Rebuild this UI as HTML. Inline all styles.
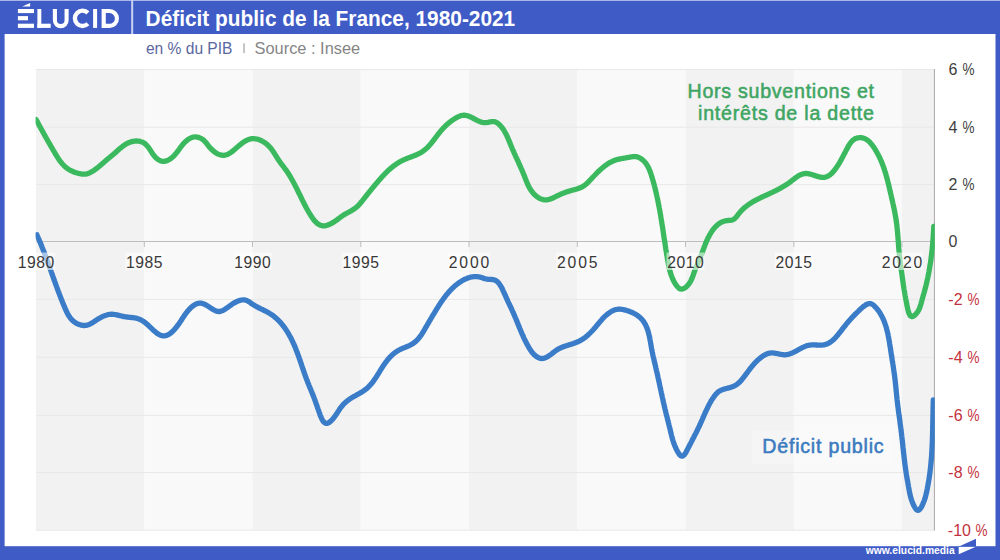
<!DOCTYPE html>
<html><head><meta charset="utf-8">
<style>
html,body{margin:0;padding:0;width:1000px;height:560px;overflow:hidden;background:#3e5bc6;}
svg{display:block;}
text{font-family:"Liberation Sans",sans-serif;}
</style></head>
<body>
<svg width="1000" height="560" viewBox="0 0 1000 560">
<rect x="0" y="0" width="1000" height="560" fill="#3e5bc6"/>
<rect x="0" y="0" width="1000" height="1" fill="#aab6ea"/>
<rect x="4.6" y="34" width="990.9" height="512.2" fill="#ffffff"/>
<!-- separator -->
<rect x="131.2" y="0" width="2" height="34" fill="#c9d1f3"/>
<!-- logo -->
<g fill="#ffffff">
<rect x="17.9" y="9" width="16.1" height="4.1"/>
<rect x="17.9" y="16.1" width="10.1" height="4.2"/>
<rect x="17.9" y="23.7" width="16.1" height="4.2"/>
<polygon points="22.2,6.6 30.1,3 30.1,6.6"/>
<rect x="37.4" y="9" width="3.9" height="18.9"/>
<rect x="37.4" y="23.7" width="13.3" height="4.2"/>
<rect x="93.1" y="9" width="4" height="18.9"/>
<path fill-rule="evenodd" d="M101.6,9 H109.6 A9.4,9.45 0 0 1 109.6,27.9 H101.6 Z M105.8,13.1 H109.6 A5.3,5.35 0 0 1 109.6,23.8 H105.8 Z"/>
</g>
<path d="M54.9,9 V20.3 A5.85,5.85 0 0 0 66.6,20.3 V9" fill="none" stroke="#fff" stroke-width="4.1"/>
<path d="M87.9,12.9 A7.65,7.65 0 1 0 87.9,23.8" fill="none" stroke="#fff" stroke-width="4.3"/>
<!-- title -->
<text x="145.6" y="26.1" font-size="21.2" font-weight="bold" fill="#ffffff" textLength="369.6" lengthAdjust="spacingAndGlyphs">Déficit public de la France, 1980-2021</text>
<text x="145.9" y="53.6" font-size="15.7" fill="#5b689f" textLength="86.6" lengthAdjust="spacingAndGlyphs">en % du PIB</text>
<rect x="243.3" y="43.3" width="1.5" height="9.8" fill="#b4b4b4"/>
<text x="254.6" y="53.6" font-size="15.7" fill="#858585" textLength="105.6" lengthAdjust="spacingAndGlyphs">Source : Insee</text>

<!-- chart bands -->
<g>
<rect x="36" y="69" width="108.3" height="461.5" fill="#f2f2f2"/>
<rect x="144.3" y="69" width="108.2" height="461.5" fill="#f9f9f9"/>
<rect x="252.5" y="69" width="108.3" height="461.5" fill="#f2f2f2"/>
<rect x="360.8" y="69" width="108.2" height="461.5" fill="#f9f9f9"/>
<rect x="469" y="69" width="108.3" height="461.5" fill="#f2f2f2"/>
<rect x="577.3" y="69" width="108.2" height="461.5" fill="#f9f9f9"/>
<rect x="685.5" y="69" width="108.3" height="461.5" fill="#f2f2f2"/>
<rect x="793.8" y="69" width="108.2" height="461.5" fill="#f9f9f9"/>
<rect x="902" y="69" width="32.5" height="461.5" fill="#f2f2f2"/>
</g>
<g stroke="#e8e8e8" stroke-width="1">
<line x1="36" y1="69.5" x2="934.5" y2="69.5"/>
<line x1="36" y1="127.2" x2="934.5" y2="127.2"/>
<line x1="36" y1="184.6" x2="934.5" y2="184.6"/>
<line x1="36" y1="299.4" x2="934.5" y2="299.4"/>
<line x1="36" y1="357.3" x2="934.5" y2="357.3"/>
<line x1="36" y1="415.4" x2="934.5" y2="415.4"/>
<line x1="36" y1="472.5" x2="934.5" y2="472.5"/>
<line x1="36" y1="530.2" x2="934.5" y2="530.2"/>
</g>
<line x1="934.4" y1="69" x2="934.4" y2="530.5" stroke="#a8a8a8" stroke-width="1"/>
<line x1="36" y1="241.5" x2="934.5" y2="241.5" stroke="#bdbdbd" stroke-width="1"/>
<g stroke="#bdbdbd" stroke-width="1">
<line x1="144.3" y1="241.5" x2="144.3" y2="247"/>
<line x1="252.5" y1="241.5" x2="252.5" y2="247"/>
<line x1="360.8" y1="241.5" x2="360.8" y2="247"/>
<line x1="469" y1="241.5" x2="469" y2="247"/>
<line x1="577.3" y1="241.5" x2="577.3" y2="247"/>
<line x1="685.5" y1="241.5" x2="685.5" y2="247"/>
<line x1="793.8" y1="241.5" x2="793.8" y2="247"/>
<line x1="902" y1="241.5" x2="902" y2="247"/>
</g>

<!-- curves -->
<clipPath id="pc"><rect x="35.6" y="60" width="899.2" height="480"/></clipPath>
<g clip-path="url(#pc)">
<path d="M36.0,119.4L36.3,120.0 36.7,120.6 37.0,121.3 37.3,121.9 37.7,122.5 38.0,123.1 38.4,123.7 38.7,124.4 39.0,125.0 39.4,125.6 39.7,126.2 40.0,126.8 40.4,127.4 40.7,128.0 41.0,128.7 41.4,129.3 41.7,129.9 42.1,130.5 42.4,131.1 42.7,131.7 43.1,132.3 43.4,132.9 43.7,133.5 44.1,134.1 44.4,134.8 44.8,135.4 45.1,136.0 45.4,136.6 45.8,137.2 46.1,137.8 46.5,138.4 46.8,139.0 47.2,139.6 47.5,140.2 47.8,140.8 48.2,141.4 48.5,142.0 48.9,142.6 49.2,143.2 49.6,143.8 49.9,144.4 50.3,145.1 50.6,145.7 51.0,146.3 51.3,146.9 51.7,147.5 52.0,148.1 52.4,148.7 52.7,149.3 53.1,149.9 53.4,150.5 53.8,151.1 54.2,151.7 54.5,152.3 54.9,152.9 55.3,153.6 55.6,154.2 56.0,154.8 56.3,155.4 56.7,156.0 57.1,156.6 57.5,157.2 57.9,157.8 58.2,158.4 58.6,159.0 59.0,159.6 59.4,160.1 59.8,160.7 60.2,161.3 60.7,161.8 61.1,162.4 61.5,162.9 62.0,163.5 62.4,164.0 62.9,164.5 63.4,165.0 63.8,165.5 64.3,166.0 64.8,166.5 65.3,166.9 65.9,167.4 66.4,167.8 66.9,168.2 67.5,168.6 68.1,169.0 68.7,169.4 69.3,169.8 69.9,170.1 70.5,170.4 71.1,170.7 71.8,171.1 72.4,171.3 73.1,171.6 73.7,171.9 74.4,172.1 75.1,172.4 75.7,172.6 76.4,172.8 77.1,173.0 77.8,173.2 78.5,173.4 79.2,173.5 79.9,173.7 80.6,173.8 81.3,174.0 81.9,174.1 82.6,174.1 83.3,174.2 84.0,174.2 84.7,174.2 85.4,174.2 86.0,174.0 86.7,173.9 87.4,173.7 88.0,173.5 88.7,173.3 89.3,173.0 89.9,172.7 90.6,172.4 91.2,172.0 91.8,171.7 92.4,171.3 93.0,171.0 93.6,170.6 94.2,170.2 94.8,169.8 95.3,169.4 95.9,169.0 96.5,168.5 97.0,168.1 97.6,167.7 98.2,167.2 98.7,166.8 99.3,166.3 99.8,165.9 100.3,165.4 100.9,165.0 101.4,164.5 101.9,164.0 102.5,163.6 103.0,163.1 103.5,162.7 104.0,162.2 104.6,161.7 105.1,161.3 105.6,160.8 106.1,160.3 106.7,159.9 107.2,159.4 107.7,159.0 108.3,158.5 108.8,158.1 109.3,157.7 109.9,157.2 110.4,156.8 110.9,156.3 111.5,155.9 112.0,155.5 112.5,155.0 113.1,154.6 113.6,154.1 114.1,153.7 114.6,153.2 115.2,152.8 115.7,152.3 116.2,151.8 116.8,151.4 117.3,150.9 117.8,150.4 118.4,149.9 118.9,149.5 119.4,149.0 120.0,148.5 120.5,148.1 121.0,147.6 121.6,147.2 122.2,146.7 122.7,146.3 123.3,145.9 123.9,145.5 124.4,145.1 125.0,144.7 125.6,144.3 126.2,143.9 126.8,143.6 127.4,143.3 128.1,143.0 128.7,142.7 129.4,142.4 130.0,142.2 130.7,141.9 131.4,141.7 132.1,141.6 132.8,141.4 133.5,141.3 134.2,141.2 134.9,141.1 135.6,141.0 136.3,141.0 137.0,141.0 137.7,141.1 138.4,141.1 139.1,141.2 139.8,141.3 140.4,141.5 141.1,141.7 141.7,141.9 142.3,142.1 142.9,142.4 143.5,142.7 144.1,143.1 144.6,143.4 145.2,143.9 145.7,144.3 146.2,144.8 146.6,145.3 147.1,145.8 147.6,146.3 148.0,146.9 148.4,147.4 148.9,148.0 149.3,148.6 149.7,149.2 150.1,149.8 150.5,150.5 150.9,151.1 151.3,151.7 151.7,152.3 152.1,152.9 152.5,153.6 153.0,154.2 153.4,154.8 153.8,155.4 154.3,155.9 154.8,156.5 155.2,157.0 155.7,157.6 156.2,158.1 156.8,158.5 157.3,159.0 157.9,159.4 158.5,159.8 159.0,160.1 159.7,160.4 160.3,160.7 160.9,160.9 161.5,161.1 162.2,161.3 162.8,161.3 163.5,161.4 164.2,161.3 164.8,161.2 165.5,161.1 166.2,160.9 166.9,160.7 167.5,160.4 168.2,160.1 168.8,159.8 169.5,159.4 170.1,159.0 170.7,158.6 171.3,158.1 171.8,157.7 172.4,157.2 172.9,156.8 173.4,156.3 173.9,155.8 174.4,155.3 174.9,154.7 175.4,154.2 175.8,153.7 176.3,153.1 176.7,152.6 177.1,152.0 177.5,151.5 178.0,150.9 178.4,150.3 178.8,149.8 179.2,149.2 179.6,148.6 180.0,148.1 180.4,147.5 180.9,146.9 181.3,146.4 181.7,145.8 182.2,145.3 182.6,144.7 183.1,144.2 183.5,143.7 184.0,143.1 184.5,142.6 185.0,142.1 185.5,141.6 186.0,141.2 186.5,140.7 187.1,140.3 187.6,139.8 188.2,139.4 188.8,139.0 189.4,138.7 190.1,138.3 190.7,138.0 191.3,137.7 192.0,137.5 192.7,137.3 193.4,137.1 194.1,137.0 194.8,136.9 195.5,136.9 196.2,137.0 196.9,137.1 197.6,137.2 198.3,137.4 199.0,137.6 199.7,137.8 200.3,138.1 201.0,138.4 201.6,138.8 202.2,139.1 202.8,139.5 203.3,139.9 203.8,140.4 204.3,140.8 204.8,141.3 205.2,141.8 205.7,142.3 206.1,142.9 206.5,143.4 207.0,143.9 207.4,144.5 207.8,145.0 208.2,145.6 208.7,146.1 209.1,146.7 209.6,147.3 210.1,147.8 210.6,148.4 211.1,148.9 211.6,149.4 212.2,149.9 212.7,150.4 213.3,150.9 213.9,151.4 214.5,151.9 215.1,152.3 215.7,152.7 216.3,153.1 217.0,153.5 217.6,153.8 218.2,154.1 218.9,154.4 219.5,154.6 220.2,154.8 220.8,155.0 221.5,155.2 222.1,155.2 222.7,155.3 223.4,155.3 224.0,155.3 224.6,155.2 225.2,155.1 225.8,155.0 226.5,154.8 227.1,154.6 227.7,154.3 228.3,154.0 228.8,153.7 229.4,153.4 230.0,153.0 230.6,152.6 231.2,152.2 231.8,151.8 232.3,151.4 232.9,150.9 233.5,150.5 234.1,150.0 234.6,149.5 235.2,149.0 235.8,148.5 236.3,148.0 236.9,147.5 237.5,147.0 238.0,146.5 238.6,146.0 239.2,145.5 239.8,145.1 240.3,144.6 240.9,144.1 241.5,143.7 242.0,143.2 242.6,142.8 243.2,142.4 243.8,142.0 244.4,141.6 245.0,141.2 245.6,140.9 246.2,140.6 246.8,140.3 247.4,140.0 248.0,139.7 248.6,139.5 249.2,139.3 249.9,139.1 250.5,138.9 251.1,138.8 251.8,138.7 252.4,138.7 253.1,138.6 253.8,138.6 254.4,138.7 255.1,138.8 255.8,138.9 256.5,139.0 257.1,139.1 257.8,139.3 258.5,139.5 259.2,139.8 259.8,140.0 260.5,140.3 261.2,140.6 261.8,140.9 262.5,141.3 263.1,141.6 263.7,142.0 264.4,142.4 265.0,142.8 265.6,143.2 266.2,143.7 266.7,144.1 267.3,144.6 267.8,145.1 268.3,145.6 268.8,146.1 269.3,146.6 269.8,147.1 270.3,147.7 270.7,148.2 271.2,148.7 271.6,149.3 272.0,149.8 272.4,150.4 272.8,151.0 273.2,151.6 273.6,152.1 274.0,152.7 274.3,153.3 274.7,153.9 275.1,154.5 275.5,155.1 275.8,155.7 276.2,156.3 276.5,156.9 276.9,157.5 277.3,158.0 277.7,158.6 278.0,159.2 278.4,159.8 278.8,160.4 279.2,160.9 279.6,161.5 280.0,162.1 280.4,162.6 280.8,163.2 281.2,163.8 281.7,164.3 282.1,164.9 282.5,165.4 282.9,166.0 283.4,166.5 283.8,167.1 284.2,167.6 284.6,168.2 285.0,168.8 285.5,169.3 285.9,169.9 286.3,170.5 286.7,171.0 287.1,171.6 287.5,172.2 287.9,172.8 288.2,173.4 288.6,174.0 289.0,174.5 289.4,175.1 289.7,175.7 290.1,176.3 290.5,177.0 290.8,177.6 291.2,178.2 291.5,178.8 291.9,179.4 292.2,180.0 292.6,180.6 292.9,181.2 293.2,181.9 293.6,182.5 293.9,183.1 294.2,183.7 294.6,184.4 294.9,185.0 295.2,185.6 295.5,186.2 295.9,186.9 296.2,187.5 296.5,188.1 296.8,188.8 297.1,189.4 297.4,190.0 297.7,190.6 298.0,191.3 298.3,191.9 298.6,192.5 298.9,193.2 299.3,193.8 299.6,194.4 299.9,195.0 300.2,195.7 300.5,196.3 300.8,196.9 301.1,197.5 301.4,198.1 301.7,198.8 302.0,199.4 302.3,200.0 302.6,200.6 302.9,201.2 303.2,201.8 303.5,202.4 303.8,203.0 304.1,203.7 304.4,204.3 304.7,204.9 305.1,205.5 305.4,206.1 305.7,206.7 306.0,207.3 306.4,207.9 306.7,208.5 307.1,209.2 307.4,209.8 307.8,210.4 308.1,211.0 308.5,211.6 308.8,212.2 309.2,212.9 309.6,213.5 310.0,214.1 310.4,214.8 310.7,215.4 311.1,216.0 311.6,216.6 312.0,217.3 312.4,217.9 312.8,218.5 313.3,219.1 313.7,219.7 314.2,220.2 314.6,220.8 315.1,221.3 315.6,221.9 316.1,222.4 316.6,222.8 317.1,223.3 317.6,223.7 318.2,224.1 318.7,224.4 319.3,224.7 319.9,225.0 320.4,225.3 321.0,225.5 321.7,225.6 322.3,225.8 322.9,225.8 323.6,225.9 324.2,225.8 324.9,225.8 325.6,225.7 326.3,225.5 327.0,225.3 327.7,225.1 328.4,224.8 329.1,224.5 329.8,224.2 330.5,223.9 331.1,223.5 331.8,223.2 332.4,222.8 333.1,222.5 333.7,222.1 334.3,221.7 334.9,221.3 335.5,220.9 336.1,220.5 336.6,220.1 337.2,219.7 337.8,219.3 338.3,218.8 338.9,218.4 339.4,218.0 340.0,217.6 340.5,217.2 341.1,216.8 341.6,216.4 342.2,216.0 342.8,215.6 343.3,215.2 343.9,214.9 344.5,214.5 345.1,214.2 345.7,213.8 346.3,213.5 346.9,213.1 347.5,212.8 348.1,212.5 348.8,212.1 349.4,211.8 350.0,211.5 350.6,211.1 351.2,210.8 351.8,210.4 352.4,210.1 353.0,209.7 353.6,209.3 354.2,208.9 354.8,208.5 355.3,208.1 355.8,207.7 356.4,207.2 356.9,206.8 357.4,206.3 357.9,205.8 358.4,205.3 358.9,204.8 359.4,204.3 359.8,203.8 360.3,203.3 360.7,202.7 361.2,202.2 361.6,201.6 362.1,201.1 362.5,200.5 363.0,200.0 363.4,199.4 363.8,198.9 364.3,198.3 364.7,197.8 365.1,197.2 365.6,196.6 366.0,196.1 366.5,195.5 366.9,195.0 367.3,194.4 367.8,193.9 368.2,193.3 368.6,192.8 369.1,192.2 369.5,191.7 370.0,191.1 370.4,190.6 370.8,190.1 371.3,189.5 371.7,189.0 372.2,188.4 372.6,187.9 373.1,187.3 373.5,186.8 374.0,186.3 374.4,185.7 374.9,185.2 375.3,184.7 375.8,184.1 376.2,183.6 376.7,183.0 377.1,182.5 377.6,182.0 378.0,181.4 378.5,180.9 379.0,180.4 379.4,179.8 379.9,179.3 380.3,178.8 380.8,178.3 381.3,177.7 381.7,177.2 382.2,176.7 382.7,176.2 383.2,175.7 383.7,175.2 384.1,174.7 384.6,174.1 385.1,173.6 385.6,173.1 386.1,172.7 386.6,172.2 387.1,171.7 387.6,171.2 388.1,170.7 388.6,170.2 389.1,169.8 389.6,169.3 390.1,168.8 390.7,168.4 391.2,167.9 391.7,167.5 392.3,167.1 392.8,166.6 393.3,166.2 393.9,165.8 394.4,165.4 395.0,165.0 395.6,164.6 396.1,164.2 396.7,163.8 397.3,163.4 397.9,163.0 398.4,162.7 399.0,162.3 399.6,161.9 400.2,161.6 400.8,161.3 401.4,160.9 402.1,160.6 402.7,160.3 403.3,160.0 404.0,159.7 404.6,159.5 405.2,159.2 405.9,158.9 406.5,158.6 407.2,158.4 407.9,158.1 408.5,157.9 409.2,157.6 409.8,157.4 410.5,157.1 411.2,156.9 411.8,156.6 412.5,156.4 413.2,156.1 413.8,155.8 414.5,155.6 415.1,155.3 415.8,155.1 416.4,154.8 417.1,154.5 417.7,154.2 418.3,153.9 418.9,153.6 419.6,153.3 420.2,153.0 420.8,152.6 421.4,152.3 421.9,151.9 422.5,151.5 423.1,151.1 423.6,150.7 424.2,150.3 424.7,149.9 425.3,149.5 425.8,149.0 426.3,148.5 426.8,148.1 427.3,147.6 427.8,147.1 428.3,146.6 428.8,146.1 429.2,145.6 429.7,145.0 430.2,144.5 430.6,144.0 431.1,143.4 431.6,142.9 432.0,142.3 432.4,141.7 432.9,141.2 433.3,140.6 433.8,140.0 434.2,139.5 434.6,138.9 435.1,138.3 435.5,137.7 435.9,137.2 436.4,136.6 436.8,136.0 437.3,135.4 437.7,134.9 438.1,134.3 438.6,133.7 439.0,133.2 439.5,132.6 439.9,132.1 440.3,131.5 440.8,131.0 441.3,130.4 441.7,129.9 442.2,129.4 442.7,128.9 443.1,128.4 443.6,127.8 444.1,127.3 444.6,126.8 445.1,126.3 445.6,125.9 446.1,125.4 446.6,124.9 447.1,124.4 447.6,124.0 448.1,123.5 448.6,123.1 449.2,122.6 449.7,122.2 450.2,121.8 450.8,121.4 451.4,120.9 451.9,120.5 452.5,120.1 453.1,119.7 453.6,119.4 454.2,119.0 454.8,118.6 455.4,118.3 456.1,117.9 456.7,117.6 457.3,117.2 457.9,116.9 458.6,116.6 459.2,116.3 459.9,116.1 460.5,115.8 461.2,115.6 461.9,115.5 462.5,115.3 463.2,115.3 463.9,115.2 464.5,115.2 465.2,115.3 465.9,115.4 466.6,115.5 467.3,115.7 467.9,115.9 468.6,116.1 469.3,116.4 470.0,116.7 470.6,117.0 471.3,117.3 471.9,117.6 472.6,118.0 473.3,118.3 473.9,118.7 474.6,119.0 475.2,119.4 475.8,119.7 476.5,120.0 477.1,120.4 477.8,120.7 478.4,121.0 479.0,121.3 479.7,121.5 480.3,121.8 481.0,122.0 481.6,122.2 482.3,122.4 483.0,122.5 483.6,122.6 484.3,122.7 485.0,122.7 485.7,122.7 486.4,122.6 487.1,122.5 487.8,122.4 488.5,122.2 489.2,122.1 489.9,122.0 490.6,121.8 491.3,121.7 492.0,121.6 492.7,121.6 493.4,121.6 494.1,121.6 494.7,121.7 495.3,121.9 495.9,122.2 496.5,122.4 497.1,122.8 497.7,123.2 498.2,123.6 498.7,124.1 499.3,124.5 499.8,125.0 500.2,125.5 500.7,126.1 501.2,126.6 501.6,127.1 502.0,127.7 502.5,128.2 502.9,128.8 503.3,129.4 503.7,130.0 504.0,130.5 504.4,131.1 504.7,131.7 505.1,132.4 505.4,133.0 505.8,133.6 506.1,134.2 506.4,134.8 506.7,135.5 507.0,136.1 507.3,136.8 507.6,137.4 507.9,138.1 508.2,138.7 508.4,139.4 508.7,140.0 509.0,140.7 509.3,141.3 509.5,142.0 509.8,142.7 510.1,143.3 510.3,144.0 510.6,144.6 510.9,145.3 511.1,146.0 511.4,146.6 511.7,147.3 512.0,147.9 512.2,148.6 512.5,149.2 512.8,149.9 513.1,150.5 513.4,151.1 513.6,151.8 513.9,152.4 514.2,153.1 514.5,153.7 514.8,154.3 515.1,155.0 515.4,155.6 515.6,156.2 515.9,156.9 516.2,157.5 516.5,158.1 516.8,158.8 517.1,159.4 517.4,160.0 517.7,160.6 518.0,161.3 518.3,161.9 518.5,162.5 518.8,163.2 519.1,163.8 519.4,164.4 519.7,165.1 520.0,165.7 520.3,166.3 520.5,167.0 520.8,167.6 521.1,168.2 521.4,168.9 521.7,169.5 521.9,170.2 522.2,170.8 522.5,171.4 522.8,172.1 523.0,172.7 523.3,173.4 523.6,174.0 523.8,174.7 524.1,175.3 524.4,176.0 524.6,176.6 524.9,177.3 525.1,178.0 525.4,178.6 525.6,179.3 525.9,179.9 526.2,180.6 526.4,181.2 526.7,181.9 527.0,182.5 527.2,183.2 527.5,183.8 527.8,184.5 528.1,185.1 528.4,185.7 528.7,186.4 529.1,187.0 529.4,187.6 529.7,188.2 530.1,188.8 530.4,189.4 530.8,190.0 531.2,190.6 531.6,191.1 532.0,191.7 532.5,192.2 532.9,192.8 533.4,193.3 533.8,193.8 534.3,194.4 534.8,194.9 535.4,195.3 535.9,195.8 536.5,196.3 537.0,196.7 537.6,197.1 538.2,197.5 538.9,197.9 539.5,198.3 540.1,198.6 540.8,198.9 541.4,199.1 542.1,199.3 542.8,199.5 543.4,199.7 544.1,199.8 544.8,199.9 545.5,199.9 546.1,199.9 546.8,199.8 547.5,199.8 548.2,199.6 548.8,199.5 549.5,199.3 550.2,199.1 550.8,198.8 551.5,198.6 552.2,198.3 552.8,198.0 553.5,197.7 554.1,197.4 554.8,197.1 555.4,196.7 556.1,196.4 556.7,196.1 557.3,195.8 558.0,195.5 558.6,195.2 559.3,194.9 559.9,194.6 560.5,194.3 561.2,194.0 561.8,193.8 562.4,193.5 563.1,193.2 563.7,193.0 564.4,192.7 565.0,192.5 565.7,192.2 566.3,192.0 567.0,191.8 567.6,191.6 568.3,191.4 569.0,191.2 569.6,191.0 570.3,190.8 571.0,190.6 571.7,190.4 572.3,190.2 573.0,190.0 573.7,189.8 574.4,189.7 575.1,189.5 575.8,189.3 576.5,189.1 577.1,188.9 577.8,188.6 578.5,188.4 579.2,188.2 579.8,187.9 580.5,187.7 581.1,187.4 581.7,187.1 582.3,186.8 582.9,186.4 583.5,186.1 584.1,185.7 584.6,185.3 585.2,184.9 585.7,184.5 586.2,184.0 586.7,183.6 587.2,183.1 587.7,182.6 588.2,182.1 588.7,181.6 589.2,181.1 589.6,180.6 590.1,180.1 590.6,179.6 591.1,179.1 591.6,178.6 592.0,178.1 592.5,177.6 593.0,177.0 593.5,176.5 594.0,176.0 594.5,175.5 595.0,175.0 595.5,174.5 596.0,173.9 596.5,173.4 597.0,172.9 597.5,172.4 598.0,171.9 598.6,171.4 599.1,170.9 599.6,170.4 600.1,169.9 600.6,169.5 601.2,169.0 601.7,168.5 602.2,168.0 602.8,167.6 603.3,167.1 603.9,166.7 604.4,166.3 605.0,165.8 605.6,165.4 606.1,165.0 606.7,164.6 607.3,164.2 607.8,163.8 608.4,163.4 609.0,163.1 609.6,162.7 610.2,162.4 610.8,162.1 611.4,161.8 612.0,161.5 612.7,161.2 613.3,160.9 613.9,160.6 614.6,160.4 615.2,160.2 615.8,159.9 616.5,159.7 617.2,159.5 617.8,159.4 618.5,159.2 619.2,159.1 619.9,158.9 620.5,158.8 621.2,158.7 621.9,158.5 622.6,158.4 623.3,158.3 624.0,158.2 624.7,158.1 625.4,158.0 626.1,157.8 626.8,157.7 627.5,157.6 628.2,157.5 628.9,157.3 629.7,157.2 630.4,157.0 631.1,156.9 631.8,156.8 632.5,156.7 633.2,156.6 633.8,156.6 634.5,156.5 635.2,156.6 635.9,156.6 636.6,156.7 637.2,156.9 637.9,157.1 638.6,157.4 639.2,157.7 639.8,158.0 640.4,158.3 641.0,158.7 641.6,159.1 642.2,159.6 642.7,160.0 643.3,160.5 643.8,161.0 644.2,161.4 644.7,162.0 645.2,162.5 645.6,163.0 646.0,163.6 646.4,164.1 646.8,164.7 647.1,165.3 647.5,165.8 647.8,166.4 648.2,167.1 648.5,167.7 648.8,168.3 649.1,168.9 649.3,169.6 649.6,170.2 649.9,170.9 650.1,171.5 650.4,172.2 650.6,172.9 650.8,173.5 651.1,174.2 651.3,174.9 651.5,175.6 651.7,176.2 651.9,176.9 652.1,177.6 652.3,178.3 652.5,179.0 652.7,179.6 652.9,180.3 653.1,181.0 653.3,181.7 653.5,182.4 653.7,183.0 653.9,183.7 654.1,184.4 654.2,185.1 654.4,185.8 654.6,186.5 654.8,187.1 654.9,187.8 655.1,188.5 655.3,189.2 655.5,189.9 655.6,190.6 655.8,191.2 655.9,191.9 656.1,192.6 656.3,193.3 656.4,194.0 656.6,194.7 656.7,195.3 656.9,196.0 657.0,196.7 657.2,197.4 657.3,198.1 657.5,198.8 657.6,199.4 657.8,200.1 657.9,200.8 658.0,201.5 658.2,202.2 658.3,202.9 658.4,203.6 658.6,204.2 658.7,204.9 658.8,205.6 659.0,206.3 659.1,207.0 659.2,207.7 659.4,208.4 659.5,209.0 659.6,209.7 659.7,210.4 659.9,211.1 660.0,211.8 660.1,212.5 660.2,213.2 660.3,213.9 660.5,214.5 660.6,215.2 660.7,215.9 660.8,216.6 660.9,217.3 661.0,218.0 661.1,218.7 661.3,219.4 661.4,220.0 661.5,220.7 661.6,221.4 661.7,222.1 661.8,222.8 661.9,223.5 662.0,224.2 662.1,224.9 662.2,225.6 662.4,226.2 662.5,226.9 662.6,227.6 662.7,228.3 662.8,229.0 662.9,229.7 663.0,230.4 663.1,231.1 663.2,231.8 663.3,232.5 663.4,233.1 663.5,233.8 663.6,234.5 663.7,235.2 663.8,235.9 663.9,236.6 664.0,237.3 664.1,238.0 664.2,238.7 664.3,239.4 664.5,240.0 664.6,240.7 664.7,241.4 664.8,242.1 664.9,242.8 665.0,243.5 665.1,244.2 665.2,244.9 665.3,245.6 665.4,246.3 665.5,247.0 665.6,247.7 665.7,248.4 665.8,249.0 665.9,249.7 666.1,250.4 666.2,251.1 666.3,251.8 666.4,252.5 666.5,253.2 666.6,253.9 666.7,254.6 666.9,255.3 667.0,256.0 667.1,256.7 667.2,257.4 667.3,258.1 667.4,258.7 667.6,259.4 667.7,260.1 667.8,260.8 667.9,261.5 668.1,262.2 668.2,262.9 668.3,263.6 668.4,264.3 668.6,265.0 668.7,265.7 668.9,266.4 669.0,267.1 669.2,267.8 669.3,268.4 669.5,269.1 669.6,269.8 669.8,270.5 670.0,271.2 670.2,271.8 670.4,272.5 670.6,273.2 670.8,273.9 671.0,274.5 671.2,275.2 671.5,275.9 671.7,276.5 672.0,277.2 672.2,277.8 672.5,278.5 672.8,279.1 673.1,279.8 673.4,280.4 673.7,281.0 674.0,281.7 674.4,282.3 674.8,282.9 675.1,283.5 675.5,284.1 675.9,284.7 676.3,285.3 676.8,285.9 677.2,286.5 677.7,287.0 678.2,287.5 678.7,288.0 679.2,288.4 679.7,288.7 680.3,288.9 680.9,289.1 681.5,289.1 682.1,289.1 682.7,289.0 683.3,288.7 683.9,288.4 684.6,288.1 685.2,287.7 685.8,287.2 686.4,286.7 687.0,286.1 687.5,285.6 688.0,285.0 688.5,284.4 689.0,283.8 689.4,283.2 689.8,282.6 690.2,282.0 690.6,281.3 690.9,280.7 691.2,280.1 691.5,279.4 691.8,278.8 692.1,278.1 692.3,277.5 692.6,276.8 692.8,276.2 693.1,275.5 693.3,274.8 693.5,274.2 693.7,273.5 694.0,272.9 694.2,272.2 694.4,271.6 694.7,270.9 694.9,270.3 695.2,269.6 695.4,269.0 695.7,268.3 696.0,267.7 696.2,267.1 696.5,266.4 696.8,265.8 697.0,265.1 697.3,264.5 697.6,263.9 697.9,263.2 698.1,262.6 698.4,261.9 698.7,261.3 699.0,260.7 699.2,260.0 699.5,259.4 699.8,258.7 700.0,258.1 700.3,257.4 700.6,256.8 700.8,256.1 701.1,255.5 701.3,254.8 701.6,254.2 701.8,253.5 702.1,252.8 702.3,252.2 702.6,251.5 702.8,250.9 703.0,250.2 703.3,249.5 703.5,248.9 703.8,248.2 704.0,247.6 704.3,246.9 704.5,246.2 704.8,245.6 705.0,244.9 705.3,244.3 705.6,243.6 705.8,243.0 706.1,242.3 706.4,241.7 706.7,241.0 706.9,240.4 707.2,239.7 707.5,239.1 707.8,238.4 708.1,237.8 708.4,237.2 708.8,236.6 709.1,235.9 709.4,235.3 709.8,234.7 710.1,234.1 710.5,233.5 710.8,232.9 711.2,232.3 711.6,231.7 712.0,231.1 712.4,230.5 712.8,230.0 713.2,229.4 713.6,228.9 714.1,228.3 714.5,227.8 715.0,227.3 715.5,226.7 716.0,226.3 716.5,225.8 717.0,225.3 717.5,224.9 718.0,224.4 718.6,224.0 719.1,223.6 719.7,223.2 720.3,222.9 720.9,222.5 721.5,222.2 722.1,221.9 722.7,221.7 723.4,221.4 724.0,221.2 724.7,221.0 725.4,220.9 726.1,220.7 726.8,220.6 727.5,220.5 728.3,220.5 729.0,220.4 729.8,220.4 730.5,220.3 731.2,220.2 731.9,220.1 732.5,219.9 733.2,219.6 733.7,219.3 734.3,218.9 734.8,218.5 735.3,218.0 735.8,217.5 736.2,217.0 736.7,216.5 737.1,215.9 737.6,215.3 738.0,214.7 738.4,214.2 738.9,213.6 739.3,213.0 739.8,212.5 740.3,211.9 740.7,211.4 741.2,210.9 741.7,210.4 742.2,209.9 742.7,209.4 743.2,208.9 743.7,208.4 744.3,207.9 744.8,207.5 745.3,207.0 745.9,206.6 746.4,206.2 747.0,205.7 747.5,205.3 748.1,204.9 748.7,204.5 749.3,204.1 749.8,203.7 750.4,203.4 751.0,203.0 751.6,202.6 752.2,202.2 752.8,201.9 753.4,201.5 754.0,201.2 754.6,200.8 755.3,200.5 755.9,200.2 756.5,199.8 757.1,199.5 757.7,199.2 758.4,198.9 759.0,198.6 759.6,198.2 760.3,197.9 760.9,197.6 761.5,197.3 762.2,197.0 762.8,196.7 763.4,196.4 764.1,196.1 764.7,195.8 765.3,195.5 766.0,195.3 766.6,195.0 767.3,194.7 767.9,194.4 768.5,194.1 769.2,193.8 769.8,193.5 770.4,193.2 771.0,192.9 771.7,192.6 772.3,192.3 772.9,192.0 773.5,191.7 774.2,191.4 774.8,191.1 775.4,190.8 776.0,190.5 776.6,190.2 777.3,189.9 777.9,189.6 778.5,189.2 779.1,188.9 779.7,188.6 780.3,188.3 780.9,187.9 781.5,187.6 782.1,187.2 782.7,186.9 783.3,186.5 783.9,186.2 784.5,185.8 785.1,185.4 785.7,185.1 786.3,184.7 786.9,184.3 787.5,183.9 788.1,183.5 788.7,183.1 789.2,182.7 789.8,182.2 790.4,181.8 791.0,181.4 791.5,180.9 792.1,180.5 792.7,180.0 793.3,179.6 793.8,179.1 794.4,178.7 795.0,178.3 795.6,177.8 796.1,177.4 796.7,177.0 797.3,176.6 797.9,176.2 798.5,175.9 799.1,175.5 799.7,175.2 800.3,174.9 800.9,174.6 801.5,174.4 802.1,174.2 802.7,174.0 803.4,173.8 804.0,173.7 804.7,173.6 805.3,173.5 806.0,173.5 806.7,173.5 807.3,173.6 808.0,173.7 808.7,173.8 809.4,173.9 810.1,174.1 810.9,174.3 811.6,174.5 812.3,174.7 813.0,174.9 813.7,175.2 814.5,175.4 815.2,175.7 815.9,175.9 816.6,176.1 817.3,176.4 818.1,176.6 818.8,176.8 819.5,176.9 820.2,177.1 820.9,177.2 821.6,177.3 822.2,177.4 822.9,177.4 823.6,177.4 824.2,177.3 824.9,177.2 825.5,177.1 826.1,176.9 826.7,176.7 827.3,176.4 827.9,176.1 828.5,175.8 829.1,175.5 829.6,175.1 830.2,174.7 830.7,174.2 831.2,173.8 831.7,173.3 832.2,172.8 832.7,172.3 833.2,171.7 833.7,171.2 834.2,170.6 834.6,170.0 835.1,169.4 835.5,168.8 836.0,168.2 836.4,167.6 836.8,167.0 837.2,166.4 837.6,165.8 838.0,165.2 838.4,164.6 838.7,164.0 839.1,163.4 839.5,162.8 839.8,162.2 840.2,161.6 840.5,161.0 840.8,160.4 841.2,159.8 841.5,159.2 841.8,158.6 842.1,158.0 842.5,157.4 842.8,156.8 843.1,156.2 843.4,155.6 843.7,155.0 844.0,154.4 844.3,153.8 844.7,153.2 845.0,152.6 845.3,152.0 845.6,151.4 845.9,150.7 846.3,150.1 846.6,149.5 846.9,148.9 847.3,148.2 847.6,147.6 848.0,146.9 848.3,146.3 848.7,145.7 849.1,145.0 849.5,144.4 849.9,143.8 850.3,143.2 850.7,142.6 851.2,142.0 851.7,141.5 852.2,140.9 852.7,140.4 853.2,140.0 853.8,139.6 854.4,139.2 855.0,138.8 855.7,138.5 856.4,138.3 857.1,138.1 857.8,137.9 858.5,137.8 859.2,137.7 859.8,137.6 860.5,137.6 861.2,137.7 861.9,137.8 862.5,137.9 863.1,138.0 863.7,138.2 864.3,138.4 864.9,138.7 865.5,139.0 866.1,139.3 866.6,139.6 867.2,140.0 867.7,140.4 868.2,140.8 868.8,141.3 869.3,141.7 869.7,142.2 870.2,142.7 870.7,143.3 871.2,143.8 871.6,144.4 872.1,144.9 872.5,145.5 872.9,146.1 873.4,146.7 873.8,147.3 874.2,147.9 874.6,148.5 875.0,149.1 875.4,149.7 875.7,150.4 876.1,151.0 876.5,151.6 876.8,152.2 877.2,152.9 877.5,153.5 877.9,154.1 878.2,154.8 878.5,155.4 878.8,156.0 879.2,156.7 879.5,157.3 879.8,157.9 880.1,158.6 880.4,159.2 880.7,159.9 880.9,160.5 881.2,161.2 881.5,161.8 881.8,162.5 882.0,163.1 882.3,163.8 882.5,164.4 882.8,165.1 883.0,165.7 883.3,166.4 883.5,167.0 883.7,167.7 884.0,168.3 884.2,169.0 884.4,169.7 884.6,170.3 884.8,171.0 885.0,171.7 885.3,172.3 885.5,173.0 885.7,173.7 885.9,174.3 886.1,175.0 886.2,175.7 886.4,176.3 886.6,177.0 886.8,177.7 887.0,178.4 887.2,179.0 887.4,179.7 887.5,180.4 887.7,181.1 887.9,181.7 888.0,182.4 888.2,183.1 888.4,183.8 888.5,184.4 888.7,185.1 888.9,185.8 889.0,186.5 889.2,187.2 889.4,187.8 889.5,188.5 889.7,189.2 889.8,189.9 890.0,190.6 890.2,191.2 890.3,191.9 890.5,192.6 890.6,193.3 890.8,194.0 891.0,194.6 891.1,195.3 891.3,196.0 891.4,196.7 891.6,197.4 891.7,198.1 891.9,198.7 892.0,199.4 892.2,200.1 892.4,200.8 892.5,201.5 892.7,202.2 892.8,202.8 893.0,203.5 893.1,204.2 893.3,204.9 893.4,205.6 893.5,206.3 893.7,207.0 893.8,207.6 894.0,208.3 894.1,209.0 894.3,209.7 894.4,210.4 894.5,211.1 894.7,211.8 894.8,212.5 894.9,213.2 895.1,213.8 895.2,214.5 895.3,215.2 895.4,215.9 895.5,216.6 895.7,217.3 895.8,218.0 895.9,218.7 896.0,219.4 896.1,220.1 896.2,220.8 896.3,221.4 896.4,222.1 896.5,222.8 896.6,223.5 896.7,224.2 896.8,224.9 896.9,225.6 896.9,226.3 897.0,227.0 897.1,227.7 897.2,228.4 897.2,229.1 897.3,229.8 897.4,230.5 897.4,231.2 897.5,231.9 897.6,232.6 897.6,233.3 897.7,234.0 897.7,234.7 897.8,235.4 897.9,236.1 897.9,236.8 898.0,237.5 898.0,238.2 898.1,238.9 898.1,239.6 898.2,240.3 898.2,241.0 898.3,241.7 898.3,242.4 898.4,243.1 898.4,243.8 898.5,244.5 898.5,245.1 898.6,245.8 898.6,246.5 898.7,247.2 898.7,247.9 898.8,248.6 898.9,249.3 898.9,250.0 899.0,250.7 899.1,251.4 899.1,252.1 899.2,252.8 899.3,253.5 899.3,254.2 899.4,254.9 899.5,255.5 899.5,256.2 899.6,256.9 899.7,257.6 899.8,258.3 899.9,259.0 899.9,259.7 900.0,260.4 900.1,261.1 900.2,261.8 900.3,262.5 900.4,263.2 900.5,263.9 900.5,264.6 900.6,265.3 900.7,265.9 900.8,266.6 900.9,267.3 901.0,268.0 901.1,268.7 901.2,269.5 901.3,270.2 901.4,270.9 901.5,271.6 901.6,272.3 901.7,273.0 901.8,273.7 901.9,274.4 902.0,275.1 902.1,275.8 902.2,276.5 902.3,277.2 902.4,278.0 902.5,278.7 902.6,279.4 902.7,280.1 902.8,280.8 902.9,281.5 903.0,282.2 903.1,282.9 903.2,283.6 903.3,284.3 903.4,285.0 903.5,285.7 903.6,286.3 903.7,287.0 903.8,287.7 903.9,288.4 904.0,289.0 904.1,289.7 904.2,290.3 904.4,291.0 904.5,291.6 904.6,292.3 904.7,292.9 904.8,293.5 904.9,294.2 905.0,294.8 905.1,295.4 905.2,296.1 905.3,296.7 905.5,297.3 905.6,298.0 905.7,298.7 905.8,299.3 906.0,300.0 906.1,300.7 906.2,301.4 906.4,302.2 906.5,302.9 906.7,303.7 906.8,304.5 907.0,305.3 907.1,306.1 907.3,306.9 907.5,307.8 907.7,308.7 907.9,309.6 908.1,310.4 908.3,311.3 908.6,312.1 908.8,312.9 909.1,313.6 909.4,314.3 909.7,314.9 910.1,315.4 910.4,315.9 910.8,316.2 911.2,316.4 911.7,316.6 912.2,316.6 912.7,316.4 913.3,316.2 913.8,315.9 914.4,315.4 915.0,315.0 915.5,314.4 916.1,313.8 916.6,313.2 917.1,312.5 917.6,311.9 918.0,311.2 918.4,310.6 918.7,309.9 919.1,309.3 919.4,308.6 919.6,308.0 919.9,307.3 920.1,306.7 920.3,306.0 920.5,305.4 920.7,304.7 920.9,304.1 921.1,303.4 921.3,302.7 921.4,302.1 921.6,301.4 921.8,300.8 922.0,300.1 922.2,299.4 922.4,298.8 922.5,298.1 922.7,297.4 922.9,296.8 923.1,296.1 923.3,295.4 923.5,294.7 923.7,294.1 923.9,293.4 924.1,292.7 924.3,292.0 924.5,291.3 924.6,290.7 924.8,290.0 925.0,289.3 925.2,288.6 925.4,287.9 925.5,287.3 925.7,286.6 925.9,285.9 926.1,285.2 926.2,284.5 926.4,283.9 926.5,283.2 926.7,282.5 926.9,281.8 927.0,281.1 927.2,280.4 927.3,279.8 927.5,279.1 927.6,278.4 927.8,277.7 927.9,277.0 928.1,276.3 928.2,275.6 928.3,275.0 928.5,274.3 928.6,273.6 928.7,272.9 928.9,272.2 929.0,271.5 929.1,270.8 929.2,270.1 929.4,269.4 929.5,268.8 929.6,268.1 929.7,267.4 929.8,266.7 929.9,266.0 930.0,265.3 930.2,264.6 930.3,263.9 930.4,263.2 930.5,262.5 930.6,261.8 930.7,261.1 930.8,260.5 930.9,259.8 931.0,259.1 931.1,258.4 931.1,257.7 931.2,257.0 931.3,256.3 931.4,255.6 931.5,254.9 931.6,254.2 931.7,253.5 931.7,252.8 931.8,252.1 931.9,251.4 932.0,250.7 932.1,250.0 932.1,249.3 932.2,248.6 932.3,248.0 932.3,247.3 932.4,246.6 932.5,245.9 932.5,245.2 932.6,244.5 932.7,243.8 932.7,243.1 932.8,242.4 932.8,241.7 932.9,241.0 932.9,240.3 933.0,239.6 933.1,238.9 933.1,238.2 933.2,237.5 933.2,236.8 933.3,236.1 933.3,235.4 933.3,234.7 933.4,234.0 933.4,233.3 933.5,232.6 933.5,231.9 933.6,231.2 933.6,230.5 933.6,229.8 933.7,229.1 933.7,228.4 933.7,227.7 933.8,227.0 933.8,226.3" fill="none" stroke="#3bb95e" stroke-width="5.3" stroke-linejoin="round" stroke-linecap="round"/>
<path d="M36.9,234.8L37.1,235.5 37.4,236.1 37.7,236.7 38.0,237.4 38.3,238.0 38.6,238.7 38.8,239.3 39.1,240.0 39.4,240.6 39.7,241.2 39.9,241.9 40.2,242.5 40.5,243.2 40.7,243.8 41.0,244.5 41.3,245.1 41.5,245.8 41.8,246.4 42.0,247.1 42.3,247.7 42.6,248.4 42.8,249.0 43.1,249.7 43.3,250.3 43.6,251.0 43.8,251.6 44.1,252.3 44.3,252.9 44.6,253.6 44.8,254.3 45.1,254.9 45.3,255.6 45.6,256.2 45.8,256.9 46.1,257.5 46.3,258.2 46.6,258.8 46.8,259.5 47.0,260.2 47.3,260.8 47.5,261.5 47.8,262.1 48.0,262.8 48.2,263.4 48.5,264.1 48.7,264.8 49.0,265.4 49.2,266.1 49.4,266.7 49.7,267.4 49.9,268.0 50.1,268.7 50.4,269.4 50.6,270.0 50.9,270.7 51.1,271.3 51.3,272.0 51.6,272.7 51.8,273.3 52.0,274.0 52.3,274.6 52.5,275.3 52.7,276.0 53.0,276.6 53.2,277.3 53.4,277.9 53.7,278.6 53.9,279.2 54.1,279.9 54.4,280.6 54.6,281.2 54.9,281.9 55.1,282.5 55.3,283.2 55.6,283.9 55.8,284.5 56.1,285.2 56.3,285.8 56.5,286.5 56.8,287.2 57.0,287.8 57.3,288.5 57.5,289.1 57.7,289.8 58.0,290.4 58.2,291.1 58.5,291.8 58.7,292.4 59.0,293.1 59.2,293.7 59.5,294.4 59.7,295.0 60.0,295.7 60.2,296.3 60.5,297.0 60.7,297.6 61.0,298.3 61.2,299.0 61.5,299.6 61.8,300.3 62.0,300.9 62.3,301.6 62.5,302.2 62.8,302.9 63.1,303.5 63.3,304.2 63.6,304.8 63.9,305.5 64.1,306.1 64.4,306.8 64.7,307.4 65.0,308.1 65.2,308.7 65.5,309.3 65.8,310.0 66.1,310.6 66.4,311.3 66.7,311.9 67.0,312.5 67.3,313.1 67.6,313.7 68.0,314.4 68.3,315.0 68.7,315.5 69.0,316.1 69.4,316.7 69.8,317.2 70.2,317.8 70.6,318.3 71.0,318.9 71.5,319.4 72.0,319.9 72.4,320.3 72.9,320.8 73.5,321.3 74.0,321.7 74.6,322.1 75.1,322.5 75.8,322.9 76.4,323.3 77.0,323.6 77.7,323.9 78.4,324.2 79.1,324.5 79.8,324.7 80.6,324.9 81.3,325.1 82.0,325.3 82.8,325.4 83.5,325.5 84.2,325.5 84.9,325.5 85.6,325.4 86.3,325.3 87.0,325.2 87.6,325.0 88.3,324.8 88.9,324.6 89.5,324.3 90.1,324.0 90.7,323.7 91.3,323.4 91.9,323.0 92.5,322.6 93.1,322.3 93.7,321.9 94.3,321.5 94.9,321.1 95.5,320.7 96.1,320.3 96.7,319.9 97.3,319.5 97.9,319.2 98.5,318.8 99.1,318.4 99.8,318.1 100.4,317.7 101.0,317.4 101.7,317.0 102.3,316.7 102.9,316.4 103.6,316.1 104.2,315.9 104.9,315.6 105.5,315.4 106.1,315.2 106.8,315.0 107.5,314.8 108.1,314.6 108.8,314.5 109.4,314.4 110.1,314.3 110.8,314.3 111.4,314.2 112.1,314.2 112.8,314.3 113.5,314.3 114.1,314.4 114.8,314.5 115.5,314.6 116.2,314.8 116.9,314.9 117.6,315.1 118.3,315.3 119.0,315.4 119.7,315.6 120.4,315.8 121.1,316.0 121.8,316.1 122.5,316.3 123.2,316.5 124.0,316.6 124.7,316.7 125.4,316.8 126.1,316.9 126.9,317.0 127.6,317.1 128.4,317.2 129.1,317.3 129.8,317.3 130.5,317.4 131.3,317.5 132.0,317.5 132.7,317.6 133.4,317.7 134.1,317.8 134.8,317.9 135.5,318.0 136.1,318.2 136.8,318.3 137.4,318.5 138.1,318.7 138.7,318.9 139.3,319.2 139.9,319.4 140.5,319.7 141.1,320.0 141.6,320.3 142.2,320.6 142.8,321.0 143.3,321.3 143.9,321.7 144.4,322.1 144.9,322.5 145.5,322.9 146.0,323.4 146.5,323.8 147.0,324.3 147.6,324.7 148.1,325.2 148.6,325.7 149.1,326.2 149.7,326.7 150.2,327.2 150.7,327.7 151.3,328.2 151.8,328.7 152.4,329.2 152.9,329.8 153.5,330.3 154.0,330.8 154.6,331.3 155.2,331.8 155.8,332.2 156.3,332.7 156.9,333.1 157.5,333.6 158.1,333.9 158.7,334.3 159.3,334.6 159.9,334.9 160.5,335.2 161.1,335.4 161.7,335.6 162.3,335.8 162.9,335.8 163.5,335.9 164.1,335.9 164.7,335.8 165.3,335.7 165.9,335.6 166.5,335.4 167.1,335.2 167.7,334.9 168.3,334.6 168.9,334.3 169.5,333.9 170.1,333.5 170.7,333.1 171.2,332.6 171.8,332.1 172.3,331.6 172.9,331.1 173.4,330.5 174.0,330.0 174.5,329.4 175.0,328.8 175.5,328.2 176.0,327.6 176.5,327.0 177.0,326.4 177.4,325.8 177.9,325.2 178.3,324.6 178.8,324.0 179.2,323.4 179.6,322.8 180.0,322.2 180.3,321.7 180.7,321.1 181.1,320.6 181.4,320.0 181.8,319.5 182.1,318.9 182.4,318.4 182.8,317.9 183.1,317.3 183.5,316.8 183.9,316.3 184.2,315.7 184.6,315.2 185.0,314.6 185.4,314.1 185.8,313.5 186.2,312.9 186.7,312.4 187.1,311.8 187.6,311.2 188.1,310.6 188.6,310.1 189.1,309.5 189.6,308.9 190.2,308.4 190.7,307.8 191.3,307.3 191.8,306.8 192.4,306.4 193.0,305.9 193.6,305.5 194.2,305.1 194.8,304.7 195.4,304.4 196.0,304.1 196.7,303.8 197.3,303.6 197.9,303.4 198.6,303.3 199.2,303.2 199.8,303.1 200.5,303.1 201.1,303.2 201.7,303.3 202.4,303.5 203.0,303.7 203.7,303.9 204.3,304.2 204.9,304.5 205.6,304.8 206.2,305.2 206.8,305.5 207.5,305.9 208.1,306.3 208.8,306.7 209.4,307.1 210.0,307.5 210.6,308.0 211.3,308.4 211.9,308.8 212.5,309.2 213.1,309.5 213.8,309.9 214.4,310.2 215.0,310.5 215.6,310.8 216.2,311.0 216.8,311.2 217.5,311.4 218.1,311.5 218.7,311.5 219.3,311.5 219.9,311.5 220.6,311.3 221.2,311.1 221.8,310.9 222.5,310.6 223.1,310.3 223.7,310.0 224.3,309.6 225.0,309.2 225.6,308.8 226.2,308.4 226.8,308.0 227.4,307.6 228.0,307.2 228.5,306.8 229.1,306.4 229.7,306.0 230.3,305.5 230.9,305.1 231.4,304.7 232.0,304.3 232.6,303.9 233.2,303.5 233.8,303.2 234.4,302.8 235.1,302.5 235.7,302.1 236.3,301.8 237.0,301.5 237.6,301.2 238.3,300.9 239.0,300.7 239.7,300.4 240.4,300.3 241.1,300.1 241.8,300.0 242.5,299.9 243.1,299.8 243.8,299.9 244.5,299.9 245.1,300.0 245.8,300.2 246.4,300.4 247.0,300.7 247.6,301.0 248.2,301.3 248.8,301.7 249.4,302.0 250.0,302.4 250.6,302.8 251.1,303.3 251.7,303.7 252.3,304.1 252.9,304.5 253.5,304.9 254.1,305.2 254.7,305.6 255.4,305.9 256.0,306.3 256.6,306.6 257.2,307.0 257.9,307.3 258.5,307.6 259.1,308.0 259.8,308.3 260.4,308.6 261.0,308.9 261.7,309.2 262.3,309.5 263.0,309.8 263.6,310.1 264.2,310.5 264.9,310.8 265.5,311.1 266.1,311.4 266.7,311.7 267.4,312.1 268.0,312.4 268.6,312.8 269.2,313.1 269.8,313.5 270.4,313.8 270.9,314.2 271.5,314.6 272.1,315.0 272.7,315.4 273.2,315.8 273.8,316.2 274.3,316.7 274.8,317.1 275.4,317.6 275.9,318.0 276.4,318.5 276.9,318.9 277.4,319.4 277.9,319.9 278.4,320.4 278.9,320.9 279.4,321.4 279.9,321.9 280.3,322.4 280.8,322.9 281.3,323.5 281.7,324.0 282.2,324.5 282.6,325.1 283.0,325.6 283.5,326.2 283.9,326.7 284.3,327.3 284.7,327.9 285.1,328.4 285.5,329.0 285.9,329.6 286.3,330.2 286.7,330.8 287.1,331.4 287.4,331.9 287.8,332.5 288.2,333.1 288.5,333.8 288.9,334.4 289.2,335.0 289.6,335.6 289.9,336.2 290.2,336.8 290.6,337.4 290.9,338.0 291.2,338.7 291.5,339.3 291.8,339.9 292.1,340.5 292.4,341.2 292.7,341.8 293.0,342.4 293.3,343.1 293.6,343.7 293.9,344.3 294.2,345.0 294.4,345.6 294.7,346.3 295.0,346.9 295.3,347.6 295.5,348.2 295.8,348.9 296.0,349.5 296.3,350.2 296.5,350.8 296.8,351.5 297.0,352.1 297.3,352.8 297.5,353.4 297.8,354.1 298.0,354.7 298.3,355.4 298.5,356.0 298.7,356.7 299.0,357.4 299.2,358.0 299.4,358.7 299.7,359.4 299.9,360.0 300.1,360.7 300.3,361.3 300.6,362.0 300.8,362.7 301.0,363.3 301.3,364.0 301.5,364.7 301.7,365.3 301.9,366.0 302.2,366.7 302.4,367.3 302.6,368.0 302.8,368.7 303.1,369.3 303.3,370.0 303.5,370.7 303.7,371.3 304.0,372.0 304.2,372.7 304.4,373.3 304.7,374.0 304.9,374.7 305.1,375.3 305.4,376.0 305.6,376.7 305.9,377.3 306.1,378.0 306.4,378.7 306.6,379.3 306.9,380.0 307.1,380.6 307.4,381.3 307.6,382.0 307.9,382.6 308.1,383.3 308.4,383.9 308.7,384.6 308.9,385.2 309.2,385.9 309.5,386.5 309.7,387.2 310.0,387.8 310.3,388.5 310.5,389.1 310.8,389.8 311.1,390.4 311.3,391.1 311.6,391.7 311.9,392.3 312.1,393.0 312.4,393.6 312.6,394.2 312.9,394.8 313.1,395.5 313.4,396.1 313.6,396.7 313.9,397.3 314.1,397.9 314.3,398.6 314.6,399.2 314.8,399.8 315.0,400.4 315.2,401.0 315.5,401.7 315.7,402.3 315.9,402.9 316.1,403.6 316.4,404.2 316.6,404.9 316.8,405.5 317.1,406.2 317.3,406.9 317.5,407.6 317.8,408.3 318.0,409.0 318.3,409.7 318.5,410.4 318.8,411.2 319.1,412.0 319.4,412.7 319.6,413.5 319.9,414.3 320.2,415.2 320.5,416.0 320.9,416.8 321.2,417.5 321.5,418.3 321.9,419.0 322.2,419.7 322.6,420.4 323.0,421.0 323.4,421.5 323.8,422.0 324.3,422.4 324.7,422.8 325.2,423.1 325.7,423.3 326.1,423.4 326.7,423.4 327.2,423.3 327.7,423.2 328.3,422.9 328.9,422.6 329.4,422.2 330.0,421.8 330.6,421.3 331.1,420.8 331.7,420.2 332.2,419.7 332.7,419.1 333.2,418.5 333.7,417.9 334.2,417.3 334.6,416.7 335.1,416.1 335.5,415.5 335.9,414.9 336.3,414.3 336.7,413.7 337.1,413.1 337.5,412.5 337.8,411.9 338.2,411.3 338.6,410.8 339.0,410.2 339.3,409.6 339.7,409.0 340.1,408.5 340.5,407.9 340.9,407.4 341.4,406.8 341.8,406.3 342.2,405.8 342.7,405.2 343.1,404.7 343.6,404.2 344.1,403.7 344.6,403.2 345.1,402.8 345.6,402.3 346.1,401.8 346.7,401.4 347.2,400.9 347.7,400.5 348.3,400.1 348.9,399.7 349.4,399.3 350.0,398.9 350.6,398.5 351.2,398.1 351.8,397.7 352.4,397.4 353.0,397.0 353.6,396.7 354.2,396.3 354.8,396.0 355.5,395.6 356.1,395.3 356.7,394.9 357.3,394.6 357.9,394.2 358.6,393.9 359.2,393.6 359.8,393.2 360.4,392.9 361.0,392.5 361.6,392.1 362.2,391.8 362.8,391.4 363.4,391.0 363.9,390.6 364.5,390.2 365.1,389.8 365.6,389.4 366.2,389.0 366.7,388.6 367.2,388.1 367.7,387.7 368.2,387.2 368.7,386.7 369.2,386.2 369.7,385.7 370.1,385.2 370.6,384.7 371.1,384.2 371.5,383.7 371.9,383.1 372.4,382.6 372.8,382.0 373.2,381.5 373.6,380.9 374.0,380.3 374.4,379.7 374.8,379.2 375.2,378.6 375.6,378.0 376.0,377.4 376.4,376.8 376.8,376.2 377.1,375.6 377.5,375.0 377.9,374.4 378.3,373.8 378.6,373.2 379.0,372.6 379.4,371.9 379.8,371.3 380.1,370.7 380.5,370.1 380.9,369.5 381.3,368.9 381.6,368.3 382.0,367.7 382.4,367.1 382.8,366.5 383.2,365.9 383.6,365.3 384.0,364.7 384.4,364.1 384.8,363.6 385.2,363.0 385.6,362.4 386.0,361.9 386.5,361.3 386.9,360.8 387.3,360.2 387.8,359.7 388.2,359.1 388.7,358.6 389.1,358.1 389.6,357.6 390.0,357.1 390.5,356.6 391.0,356.1 391.5,355.6 392.0,355.2 392.5,354.7 393.0,354.2 393.5,353.8 394.1,353.4 394.6,352.9 395.2,352.5 395.7,352.1 396.3,351.7 396.9,351.3 397.4,351.0 398.0,350.6 398.6,350.3 399.2,349.9 399.9,349.6 400.5,349.3 401.2,349.0 401.8,348.7 402.5,348.4 403.1,348.1 403.8,347.9 404.5,347.6 405.1,347.3 405.8,347.1 406.5,346.8 407.1,346.5 407.8,346.2 408.5,346.0 409.1,345.7 409.8,345.4 410.4,345.0 411.0,344.7 411.6,344.4 412.2,344.0 412.8,343.7 413.4,343.3 413.9,342.9 414.5,342.4 415.0,342.0 415.5,341.6 416.0,341.1 416.5,340.6 417.0,340.1 417.5,339.6 418.0,339.1 418.4,338.6 418.9,338.1 419.3,337.5 419.7,337.0 420.2,336.4 420.6,335.8 421.0,335.3 421.4,334.7 421.8,334.1 422.2,333.5 422.5,332.9 422.9,332.3 423.3,331.7 423.7,331.1 424.0,330.5 424.4,329.9 424.7,329.2 425.1,328.6 425.4,328.0 425.8,327.4 426.1,326.8 426.5,326.2 426.8,325.6 427.2,325.0 427.5,324.4 427.9,323.8 428.2,323.2 428.6,322.6 428.9,322.0 429.3,321.4 429.6,320.8 430.0,320.2 430.3,319.6 430.7,319.0 431.0,318.4 431.4,317.8 431.7,317.2 432.1,316.6 432.4,316.0 432.8,315.4 433.1,314.8 433.5,314.3 433.9,313.7 434.2,313.1 434.6,312.5 434.9,311.9 435.3,311.3 435.7,310.7 436.0,310.1 436.4,309.5 436.8,308.9 437.1,308.3 437.5,307.7 437.9,307.1 438.3,306.5 438.6,305.9 439.0,305.3 439.4,304.7 439.8,304.1 440.2,303.5 440.6,302.9 441.0,302.3 441.4,301.7 441.8,301.2 442.2,300.6 442.6,300.0 443.0,299.4 443.4,298.8 443.8,298.3 444.3,297.7 444.7,297.1 445.1,296.6 445.5,296.0 446.0,295.4 446.4,294.9 446.9,294.3 447.3,293.8 447.8,293.3 448.2,292.7 448.7,292.2 449.2,291.7 449.6,291.1 450.1,290.6 450.6,290.1 451.1,289.6 451.6,289.1 452.0,288.6 452.5,288.1 453.0,287.6 453.6,287.2 454.1,286.7 454.6,286.2 455.1,285.8 455.6,285.3 456.2,284.9 456.7,284.5 457.3,284.0 457.8,283.6 458.4,283.2 459.0,282.8 459.5,282.4 460.1,282.0 460.7,281.6 461.3,281.3 461.9,280.9 462.5,280.5 463.1,280.2 463.7,279.9 464.3,279.5 465.0,279.2 465.6,278.9 466.2,278.7 466.9,278.4 467.5,278.1 468.2,277.9 468.8,277.7 469.5,277.5 470.1,277.3 470.8,277.1 471.5,277.0 472.1,276.9 472.8,276.8 473.5,276.7 474.2,276.6 474.9,276.6 475.5,276.6 476.2,276.6 476.9,276.6 477.6,276.7 478.3,276.8 479.0,276.9 479.7,277.0 480.4,277.2 481.1,277.4 481.7,277.6 482.4,277.9 483.1,278.1 483.8,278.3 484.5,278.6 485.2,278.8 486.0,279.0 486.7,279.1 487.4,279.2 488.1,279.3 488.8,279.3 489.5,279.4 490.2,279.4 490.9,279.4 491.6,279.5 492.3,279.5 492.9,279.6 493.6,279.7 494.2,279.9 494.8,280.1 495.4,280.3 496.0,280.7 496.5,281.0 497.0,281.4 497.5,281.9 498.0,282.3 498.5,282.8 498.9,283.4 499.3,283.9 499.7,284.5 500.1,285.1 500.5,285.7 500.9,286.3 501.2,286.9 501.6,287.5 501.9,288.1 502.2,288.8 502.5,289.4 502.8,290.1 503.1,290.7 503.4,291.4 503.7,292.0 504.0,292.7 504.3,293.3 504.6,294.0 504.9,294.6 505.2,295.3 505.5,295.9 505.8,296.6 506.1,297.2 506.3,297.9 506.6,298.5 506.9,299.2 507.2,299.8 507.5,300.4 507.8,301.1 508.1,301.7 508.4,302.4 508.7,303.0 509.0,303.6 509.3,304.3 509.6,304.9 509.9,305.5 510.2,306.2 510.5,306.8 510.8,307.4 511.1,308.0 511.4,308.7 511.7,309.3 512.0,309.9 512.2,310.6 512.5,311.2 512.8,311.8 513.1,312.5 513.4,313.1 513.7,313.7 513.9,314.4 514.2,315.0 514.5,315.7 514.8,316.3 515.1,316.9 515.3,317.6 515.6,318.2 515.9,318.9 516.1,319.5 516.4,320.2 516.7,320.8 516.9,321.4 517.2,322.1 517.5,322.7 517.7,323.4 518.0,324.0 518.2,324.7 518.5,325.3 518.8,326.0 519.0,326.6 519.3,327.3 519.6,327.9 519.8,328.6 520.1,329.2 520.4,329.9 520.6,330.5 520.9,331.2 521.2,331.8 521.5,332.5 521.7,333.1 522.0,333.7 522.3,334.4 522.6,335.0 522.9,335.7 523.2,336.3 523.4,336.9 523.7,337.6 524.0,338.2 524.3,338.9 524.6,339.5 524.9,340.1 525.3,340.7 525.6,341.4 525.9,342.0 526.2,342.6 526.5,343.3 526.9,343.9 527.2,344.5 527.5,345.1 527.9,345.7 528.2,346.3 528.6,347.0 528.9,347.6 529.3,348.2 529.7,348.8 530.0,349.4 530.4,350.0 530.8,350.6 531.2,351.1 531.6,351.7 532.1,352.3 532.5,352.8 533.0,353.3 533.4,353.9 533.9,354.4 534.4,354.9 535.0,355.4 535.5,355.8 536.1,356.3 536.7,356.7 537.3,357.1 537.9,357.4 538.5,357.7 539.1,358.0 539.8,358.2 540.4,358.4 541.1,358.5 541.7,358.5 542.4,358.5 543.1,358.4 543.7,358.3 544.4,358.1 545.0,357.9 545.7,357.6 546.4,357.3 547.0,357.0 547.6,356.6 548.3,356.2 548.9,355.8 549.5,355.4 550.1,355.0 550.7,354.6 551.2,354.2 551.8,353.7 552.4,353.3 552.9,352.8 553.5,352.4 554.1,352.0 554.6,351.5 555.2,351.1 555.8,350.7 556.3,350.3 556.9,349.9 557.5,349.6 558.1,349.2 558.7,348.9 559.3,348.5 560.0,348.2 560.6,347.9 561.2,347.6 561.9,347.4 562.5,347.1 563.2,346.8 563.8,346.6 564.5,346.4 565.2,346.1 565.8,345.9 566.5,345.7 567.2,345.5 567.9,345.2 568.5,345.0 569.2,344.8 569.9,344.6 570.6,344.4 571.2,344.2 571.9,344.0 572.6,343.7 573.3,343.5 573.9,343.3 574.6,343.1 575.3,342.8 575.9,342.6 576.6,342.3 577.2,342.1 577.8,341.8 578.5,341.5 579.1,341.2 579.7,340.9 580.3,340.6 580.9,340.2 581.5,339.9 582.1,339.5 582.7,339.2 583.2,338.8 583.8,338.4 584.4,338.0 584.9,337.6 585.5,337.2 586.0,336.7 586.5,336.3 587.1,335.9 587.6,335.4 588.1,334.9 588.6,334.5 589.1,334.0 589.6,333.5 590.1,333.0 590.6,332.5 591.1,332.0 591.6,331.5 592.1,331.0 592.5,330.5 593.0,330.0 593.5,329.5 593.9,328.9 594.4,328.4 594.9,327.9 595.3,327.3 595.8,326.8 596.2,326.2 596.7,325.7 597.1,325.1 597.6,324.6 598.0,324.1 598.5,323.5 598.9,323.0 599.4,322.4 599.9,321.9 600.3,321.4 600.8,320.8 601.2,320.3 601.7,319.8 602.2,319.2 602.7,318.7 603.1,318.2 603.6,317.7 604.1,317.2 604.6,316.7 605.1,316.2 605.6,315.8 606.2,315.3 606.7,314.8 607.2,314.4 607.8,313.9 608.3,313.5 608.9,313.1 609.5,312.7 610.1,312.3 610.7,311.9 611.3,311.5 611.9,311.2 612.5,310.9 613.1,310.6 613.8,310.3 614.4,310.0 615.0,309.8 615.7,309.6 616.4,309.5 617.0,309.4 617.7,309.3 618.4,309.2 619.1,309.2 619.8,309.2 620.4,309.2 621.1,309.3 621.8,309.4 622.5,309.5 623.2,309.6 623.9,309.8 624.6,309.9 625.3,310.1 626.0,310.3 626.7,310.5 627.4,310.7 628.1,310.9 628.8,311.2 629.5,311.4 630.2,311.7 630.8,311.9 631.5,312.2 632.2,312.5 632.8,312.8 633.5,313.1 634.1,313.5 634.7,313.8 635.4,314.2 636.0,314.5 636.6,314.9 637.2,315.3 637.7,315.7 638.3,316.1 638.9,316.6 639.4,317.0 639.9,317.5 640.4,317.9 640.9,318.4 641.4,318.9 641.9,319.4 642.3,319.9 642.7,320.4 643.1,320.9 643.5,321.5 643.9,322.0 644.3,322.6 644.6,323.2 645.0,323.8 645.3,324.3 645.6,324.9 645.9,325.6 646.2,326.2 646.4,326.8 646.7,327.4 647.0,328.1 647.2,328.7 647.4,329.4 647.7,330.0 647.9,330.7 648.1,331.3 648.3,332.0 648.5,332.7 648.6,333.4 648.8,334.1 649.0,334.8 649.2,335.4 649.3,336.1 649.5,336.8 649.6,337.6 649.8,338.3 649.9,339.0 650.0,339.7 650.2,340.4 650.3,341.1 650.4,341.8 650.5,342.5 650.7,343.2 650.8,344.0 650.9,344.7 651.0,345.4 651.2,346.1 651.3,346.8 651.4,347.5 651.5,348.2 651.7,348.9 651.8,349.6 651.9,350.3 652.1,351.0 652.2,351.7 652.4,352.4 652.5,353.1 652.6,353.8 652.8,354.5 652.9,355.2 653.1,355.9 653.2,356.5 653.4,357.2 653.6,357.9 653.7,358.6 653.9,359.3 654.0,359.9 654.2,360.6 654.3,361.3 654.5,362.0 654.6,362.6 654.8,363.3 655.0,364.0 655.1,364.7 655.3,365.3 655.4,366.0 655.6,366.7 655.8,367.4 655.9,368.0 656.1,368.7 656.2,369.4 656.4,370.1 656.5,370.7 656.7,371.4 656.9,372.1 657.0,372.8 657.2,373.4 657.3,374.1 657.5,374.8 657.6,375.5 657.8,376.2 657.9,376.8 658.1,377.5 658.2,378.2 658.4,378.9 658.5,379.6 658.7,380.2 658.8,380.9 659.0,381.6 659.1,382.3 659.3,383.0 659.4,383.6 659.5,384.3 659.7,385.0 659.8,385.7 660.0,386.4 660.1,387.1 660.3,387.7 660.4,388.4 660.6,389.1 660.7,389.8 660.9,390.5 661.0,391.2 661.2,391.9 661.3,392.5 661.5,393.2 661.6,393.9 661.8,394.6 661.9,395.3 662.1,396.0 662.2,396.7 662.4,397.4 662.5,398.0 662.7,398.7 662.8,399.4 663.0,400.1 663.1,400.8 663.3,401.5 663.4,402.2 663.6,402.9 663.8,403.5 663.9,404.2 664.1,404.9 664.2,405.6 664.4,406.3 664.5,407.0 664.7,407.7 664.9,408.4 665.0,409.0 665.2,409.7 665.4,410.4 665.5,411.1 665.7,411.8 665.9,412.5 666.0,413.2 666.2,413.9 666.4,414.5 666.5,415.2 666.7,415.9 666.9,416.6 667.1,417.3 667.2,418.0 667.4,418.6 667.6,419.3 667.7,420.0 667.9,420.7 668.1,421.4 668.3,422.0 668.4,422.7 668.6,423.4 668.8,424.0 668.9,424.7 669.1,425.4 669.3,426.1 669.4,426.7 669.6,427.4 669.8,428.0 669.9,428.7 670.1,429.3 670.2,430.0 670.4,430.6 670.5,431.3 670.7,431.9 670.8,432.6 671.0,433.2 671.2,433.9 671.3,434.5 671.5,435.2 671.6,435.8 671.8,436.5 672.0,437.1 672.2,437.8 672.3,438.4 672.5,439.1 672.7,439.8 672.9,440.4 673.1,441.1 673.4,441.8 673.6,442.5 673.8,443.2 674.1,443.9 674.4,444.6 674.6,445.3 674.9,446.0 675.2,446.7 675.6,447.5 675.9,448.2 676.2,449.0 676.6,449.7 677.0,450.5 677.4,451.3 677.8,452.0 678.2,452.7 678.6,453.3 679.0,453.9 679.5,454.5 679.9,455.0 680.3,455.4 680.8,455.7 681.2,456.0 681.6,456.1 682.1,456.2 682.5,456.1 682.9,455.9 683.3,455.6 683.7,455.3 684.2,454.9 684.6,454.4 685.0,453.8 685.4,453.2 685.8,452.6 686.2,451.9 686.5,451.2 686.9,450.4 687.3,449.7 687.7,449.0 688.1,448.2 688.4,447.5 688.8,446.8 689.2,446.1 689.5,445.4 689.9,444.7 690.2,444.0 690.6,443.4 690.9,442.7 691.3,442.0 691.6,441.4 691.9,440.7 692.3,440.1 692.6,439.5 692.9,438.8 693.2,438.2 693.6,437.6 693.9,436.9 694.2,436.3 694.5,435.7 694.8,435.1 695.1,434.5 695.4,433.9 695.8,433.3 696.1,432.7 696.4,432.1 696.7,431.5 697.0,430.9 697.3,430.3 697.5,429.7 697.8,429.1 698.1,428.5 698.4,427.9 698.7,427.3 699.0,426.7 699.3,426.1 699.6,425.5 699.8,424.9 700.1,424.3 700.4,423.6 700.7,423.0 701.0,422.4 701.3,421.8 701.5,421.1 701.8,420.5 702.1,419.9 702.4,419.2 702.6,418.6 702.9,418.0 703.2,417.3 703.5,416.7 703.8,416.0 704.0,415.4 704.3,414.7 704.6,414.1 704.9,413.4 705.2,412.8 705.5,412.1 705.8,411.5 706.1,410.8 706.4,410.2 706.7,409.5 707.0,408.9 707.3,408.2 707.6,407.6 707.9,406.9 708.3,406.3 708.6,405.6 708.9,405.0 709.2,404.4 709.6,403.7 709.9,403.1 710.3,402.5 710.6,401.9 711.0,401.3 711.4,400.6 711.7,400.0 712.1,399.4 712.5,398.8 712.9,398.3 713.3,397.7 713.7,397.1 714.1,396.5 714.5,396.0 714.9,395.4 715.4,394.9 715.8,394.3 716.3,393.8 716.7,393.3 717.2,392.8 717.7,392.4 718.3,391.9 718.8,391.5 719.3,391.1 719.9,390.8 720.5,390.5 721.1,390.2 721.8,389.9 722.4,389.7 723.1,389.4 723.8,389.2 724.4,389.0 725.1,388.8 725.8,388.7 726.5,388.5 727.2,388.3 727.9,388.1 728.6,387.9 729.3,387.8 730.0,387.6 730.7,387.3 731.4,387.1 732.0,386.9 732.7,386.6 733.3,386.4 733.9,386.1 734.6,385.8 735.2,385.5 735.8,385.1 736.3,384.8 736.9,384.4 737.5,384.0 738.0,383.5 738.5,383.1 739.0,382.6 739.5,382.1 740.0,381.7 740.5,381.1 741.0,380.6 741.4,380.1 741.9,379.6 742.3,379.0 742.8,378.4 743.2,377.9 743.7,377.3 744.1,376.8 744.5,376.2 744.9,375.6 745.4,375.0 745.8,374.5 746.2,373.9 746.6,373.3 747.1,372.8 747.5,372.2 747.9,371.6 748.3,371.0 748.8,370.5 749.2,369.9 749.6,369.4 750.0,368.8 750.5,368.2 750.9,367.7 751.4,367.1 751.8,366.6 752.2,366.1 752.7,365.5 753.1,365.0 753.6,364.5 754.1,363.9 754.5,363.4 755.0,362.9 755.5,362.4 756.0,361.9 756.5,361.4 757.0,360.9 757.5,360.4 758.0,360.0 758.5,359.5 759.0,359.0 759.6,358.6 760.1,358.1 760.6,357.7 761.2,357.3 761.8,356.9 762.4,356.4 763.0,356.0 763.6,355.7 764.2,355.3 764.8,354.9 765.4,354.6 766.0,354.3 766.7,354.0 767.3,353.8 768.0,353.5 768.6,353.3 769.3,353.2 770.0,353.1 770.7,353.0 771.3,352.9 772.0,352.9 772.7,352.9 773.4,353.0 774.1,353.1 774.8,353.2 775.5,353.3 776.2,353.4 776.9,353.5 777.6,353.7 778.3,353.8 779.0,354.0 779.7,354.2 780.4,354.3 781.1,354.4 781.8,354.5 782.5,354.6 783.2,354.7 783.9,354.8 784.6,354.8 785.3,354.8 786.0,354.7 786.7,354.6 787.4,354.5 788.0,354.4 788.7,354.2 789.4,354.0 790.1,353.8 790.7,353.6 791.4,353.3 792.0,353.0 792.7,352.8 793.3,352.4 794.0,352.1 794.6,351.8 795.3,351.5 795.9,351.1 796.5,350.8 797.2,350.4 797.8,350.1 798.4,349.7 799.1,349.4 799.7,349.0 800.3,348.7 800.9,348.4 801.6,348.0 802.2,347.7 802.8,347.4 803.5,347.1 804.1,346.8 804.7,346.5 805.4,346.3 806.0,346.1 806.7,345.8 807.3,345.6 808.0,345.5 808.7,345.3 809.3,345.2 810.0,345.1 810.7,345.0 811.4,344.9 812.1,344.9 812.8,344.9 813.5,344.9 814.2,344.9 815.0,344.9 815.7,345.0 816.4,345.0 817.1,345.0 817.8,345.1 818.6,345.1 819.3,345.1 820.0,345.1 820.7,345.1 821.4,345.1 822.1,345.1 822.8,345.0 823.4,344.9 824.1,344.8 824.8,344.7 825.4,344.5 826.0,344.3 826.7,344.1 827.3,343.8 827.9,343.6 828.5,343.3 829.1,342.9 829.7,342.6 830.3,342.2 830.8,341.8 831.4,341.4 831.9,341.0 832.5,340.5 833.0,340.0 833.5,339.6 834.1,339.1 834.6,338.5 835.1,338.0 835.6,337.5 836.1,336.9 836.6,336.4 837.0,335.8 837.5,335.3 838.0,334.7 838.5,334.1 838.9,333.6 839.4,333.0 839.8,332.4 840.3,331.8 840.7,331.3 841.2,330.7 841.6,330.1 842.1,329.5 842.5,329.0 842.9,328.4 843.3,327.9 843.8,327.3 844.2,326.8 844.6,326.3 845.0,325.8 845.5,325.2 845.9,324.7 846.3,324.2 846.7,323.7 847.1,323.2 847.6,322.7 848.0,322.2 848.4,321.7 848.9,321.2 849.3,320.7 849.7,320.2 850.2,319.7 850.6,319.2 851.1,318.7 851.5,318.2 852.0,317.7 852.4,317.2 852.9,316.7 853.4,316.2 853.9,315.7 854.4,315.1 854.8,314.6 855.4,314.1 855.9,313.6 856.4,313.1 856.9,312.6 857.5,312.0 858.0,311.5 858.6,311.0 859.1,310.4 859.7,309.9 860.3,309.3 860.9,308.8 861.5,308.2 862.1,307.7 862.8,307.1 863.4,306.6 864.0,306.1 864.7,305.7 865.3,305.2 865.9,304.8 866.6,304.5 867.2,304.2 867.8,303.9 868.5,303.8 869.1,303.6 869.7,303.6 870.3,303.6 870.9,303.7 871.5,303.9 872.0,304.2 872.6,304.5 873.1,304.9 873.7,305.3 874.2,305.8 874.7,306.3 875.2,306.8 875.7,307.3 876.2,307.9 876.6,308.4 877.1,309.0 877.5,309.5 878.0,310.1 878.4,310.7 878.8,311.2 879.2,311.8 879.6,312.4 880.0,313.0 880.3,313.6 880.7,314.2 881.0,314.8 881.4,315.4 881.7,316.0 882.0,316.6 882.3,317.2 882.6,317.8 882.9,318.5 883.2,319.1 883.5,319.7 883.8,320.4 884.0,321.0 884.3,321.6 884.5,322.3 884.8,322.9 885.0,323.6 885.2,324.2 885.5,324.9 885.7,325.6 885.9,326.2 886.1,326.9 886.3,327.6 886.5,328.2 886.6,328.9 886.8,329.6 887.0,330.2 887.2,330.9 887.3,331.6 887.5,332.3 887.7,333.0 887.8,333.7 888.0,334.3 888.1,335.0 888.2,335.7 888.4,336.4 888.5,337.1 888.6,337.8 888.8,338.5 888.9,339.2 889.0,339.9 889.1,340.6 889.3,341.3 889.4,342.0 889.5,342.7 889.6,343.4 889.7,344.0 889.8,344.7 889.9,345.4 890.0,346.1 890.2,346.8 890.3,347.5 890.4,348.2 890.5,348.9 890.6,349.6 890.7,350.3 890.8,351.0 890.9,351.7 891.0,352.4 891.1,353.1 891.2,353.8 891.3,354.5 891.5,355.2 891.6,355.9 891.7,356.6 891.8,357.3 891.9,357.9 892.0,358.6 892.1,359.3 892.2,360.0 892.3,360.7 892.4,361.4 892.6,362.1 892.7,362.8 892.8,363.5 892.9,364.2 893.0,364.8 893.1,365.5 893.2,366.2 893.3,366.9 893.4,367.6 893.5,368.3 893.6,369.0 893.7,369.7 893.8,370.4 893.9,371.0 894.0,371.7 894.1,372.4 894.2,373.1 894.3,373.8 894.4,374.5 894.5,375.2 894.6,375.9 894.7,376.6 894.7,377.3 894.8,377.9 894.9,378.6 895.0,379.3 895.1,380.0 895.2,380.7 895.2,381.4 895.3,382.1 895.4,382.8 895.5,383.5 895.5,384.2 895.6,384.9 895.7,385.6 895.8,386.3 895.8,387.0 895.9,387.7 896.0,388.4 896.0,389.1 896.1,389.8 896.2,390.5 896.2,391.2 896.3,391.9 896.4,392.6 896.4,393.3 896.5,394.0 896.6,394.7 896.6,395.4 896.7,396.1 896.8,396.8 896.9,397.5 896.9,398.2 897.0,398.9 897.1,399.6 897.2,400.2 897.2,400.9 897.3,401.6 897.4,402.3 897.5,403.0 897.6,403.7 897.6,404.4 897.7,405.1 897.8,405.8 897.9,406.5 898.0,407.2 898.1,407.9 898.2,408.6 898.3,409.3 898.3,410.0 898.4,410.7 898.5,411.4 898.6,412.1 898.7,412.8 898.8,413.5 898.9,414.2 899.0,414.9 899.1,415.6 899.2,416.3 899.3,416.9 899.4,417.6 899.5,418.3 899.6,419.0 899.7,419.7 899.8,420.4 899.9,421.1 900.0,421.8 900.0,422.5 900.1,423.2 900.2,423.9 900.3,424.6 900.4,425.3 900.5,426.0 900.6,426.7 900.7,427.4 900.8,428.0 900.9,428.7 901.0,429.4 901.1,430.1 901.1,430.8 901.2,431.5 901.3,432.2 901.4,432.9 901.5,433.6 901.6,434.3 901.6,435.0 901.7,435.7 901.8,436.4 901.9,437.1 902.0,437.7 902.0,438.4 902.1,439.1 902.2,439.8 902.3,440.5 902.4,441.2 902.4,441.9 902.5,442.6 902.6,443.3 902.7,444.0 902.7,444.7 902.8,445.4 902.9,446.1 902.9,446.8 903.0,447.5 903.1,448.2 903.2,448.8 903.2,449.5 903.3,450.2 903.4,450.9 903.5,451.6 903.5,452.3 903.6,453.0 903.7,453.7 903.8,454.4 903.9,455.1 903.9,455.8 904.0,456.5 904.1,457.2 904.2,457.9 904.3,458.6 904.3,459.3 904.4,460.0 904.5,460.7 904.6,461.4 904.7,462.1 904.8,462.8 904.8,463.5 904.9,464.2 905.0,464.9 905.1,465.6 905.2,466.3 905.3,467.0 905.4,467.7 905.5,468.4 905.6,469.1 905.7,469.8 905.8,470.5 905.9,471.2 906.0,471.9 906.1,472.6 906.2,473.3 906.3,474.0 906.4,474.7 906.6,475.4 906.7,476.1 906.8,476.8 906.9,477.5 907.0,478.2 907.1,478.9 907.3,479.6 907.4,480.3 907.5,481.0 907.6,481.6 907.8,482.3 907.9,483.0 908.0,483.7 908.1,484.4 908.2,485.1 908.4,485.7 908.5,486.4 908.6,487.1 908.7,487.7 908.8,488.4 909.0,489.1 909.1,489.7 909.2,490.4 909.3,491.0 909.4,491.6 909.6,492.3 909.7,492.9 909.8,493.6 910.0,494.2 910.1,494.9 910.3,495.5 910.4,496.2 910.6,496.8 910.8,497.5 911.0,498.2 911.2,498.9 911.4,499.6 911.6,500.3 911.9,501.0 912.2,501.7 912.4,502.4 912.8,503.2 913.1,504.0 913.4,504.7 913.8,505.5 914.2,506.3 914.6,507.0 915.0,507.7 915.4,508.4 915.9,509.0 916.3,509.5 916.8,509.9 917.2,510.1 917.7,510.3 918.2,510.3 918.6,510.2 919.1,509.9 919.5,509.5 920.0,509.1 920.4,508.5 920.8,507.9 921.3,507.2 921.7,506.4 922.1,505.7 922.4,504.9 922.8,504.1 923.1,503.4 923.4,502.6 923.7,501.9 924.0,501.2 924.3,500.4 924.5,499.8 924.7,499.1 925.0,498.4 925.2,497.7 925.4,497.1 925.5,496.4 925.7,495.8 925.9,495.1 926.0,494.5 926.2,493.8 926.3,493.2 926.5,492.6 926.6,491.9 926.8,491.3 926.9,490.6 927.0,490.0 927.2,489.3 927.3,488.7 927.4,488.0 927.5,487.3 927.7,486.7 927.8,486.0 927.9,485.3 928.0,484.6 928.2,483.9 928.3,483.3 928.4,482.6 928.5,481.9 928.6,481.2 928.8,480.5 928.9,479.8 929.0,479.1 929.1,478.4 929.2,477.7 929.3,477.0 929.4,476.3 929.5,475.6 929.6,474.9 929.7,474.2 929.8,473.5 929.9,472.8 930.0,472.1 930.1,471.4 930.1,470.7 930.2,470.0 930.3,469.3 930.4,468.6 930.5,467.8 930.6,467.1 930.6,466.4 930.7,465.7 930.8,465.0 930.8,464.3 930.9,463.6 931.0,462.9 931.0,462.2 931.1,461.5 931.2,460.8 931.2,460.1 931.3,459.4 931.3,458.7 931.4,458.0 931.5,457.3 931.5,456.6 931.6,455.9 931.6,455.2 931.7,454.5 931.7,453.8 931.7,453.1 931.8,452.4 931.8,451.7 931.9,451.0 931.9,450.3 931.9,449.6 932.0,448.9 932.0,448.2 932.1,447.5 932.1,446.8 932.1,446.1 932.2,445.4 932.2,444.8 932.2,444.1 932.2,443.4 932.3,442.7 932.3,442.0 932.3,441.3 932.4,440.6 932.4,439.9 932.4,439.2 932.4,438.5 932.4,437.8 932.5,437.1 932.5,436.4 932.5,435.7 932.5,435.0 932.6,434.3 932.6,433.6 932.6,432.9 932.6,432.2 932.6,431.5 932.6,430.8 932.7,430.1 932.7,429.4 932.7,428.7 932.7,428.0 932.7,427.3 932.7,426.6 932.7,425.9 932.8,425.2 932.8,424.5 932.8,423.8 932.8,423.1 932.8,422.4 932.8,421.7 932.8,421.0 932.8,420.3 932.9,419.6 932.9,418.9 932.9,418.2 932.9,417.5 932.9,416.8 932.9,416.1 932.9,415.4 933.0,414.7 933.0,414.0 933.0,413.3 933.0,412.6 933.0,411.9 933.0,411.2 933.0,410.5 933.1,409.8 933.1,409.1 933.1,408.4 933.1,407.7 933.1,407.0 933.1,406.3 933.2,405.6 933.2,404.9 933.2,404.2 933.2,403.5 933.2,402.8 933.2,402.1 933.3,401.4 933.3,400.7 933.3,400.0" fill="none" stroke="#3a7cc7" stroke-width="5.3" stroke-linejoin="round" stroke-linecap="round"/>
</g>

<!-- year labels -->
<g fill="#ffffff" fill-opacity="0.55">
<rect x="17" y="252.5" width="38" height="17.5"/>
<rect x="125.3" y="252.5" width="38" height="17.5"/>
<rect x="233.5" y="252.5" width="38" height="17.5"/>
<rect x="341.8" y="252.5" width="38" height="17.5"/>
<rect x="448" y="252.5" width="42" height="17.5"/>
<rect x="556.3" y="252.5" width="42" height="17.5"/>
<rect x="666.5" y="252.5" width="38" height="17.5"/>
<rect x="774.8" y="252.5" width="38" height="17.5"/>
<rect x="881" y="252.5" width="42" height="17.5"/>
</g>
<g font-size="15.7" fill="#383838" text-anchor="middle" lengthAdjust="spacingAndGlyphs">
<text x="36" y="267.6" textLength="36.4">1980</text>
<text x="144.3" y="267.6" textLength="36.4">1985</text>
<text x="252.5" y="267.6" textLength="36.4">1990</text>
<text x="360.8" y="267.6" textLength="36.4">1995</text>
<text x="469" y="267.6" textLength="40.6">2000</text>
<text x="577.3" y="267.6" textLength="40.6">2005</text>
<text x="685.5" y="267.6" textLength="36.4">2010</text>
<text x="793.8" y="267.6" textLength="36.4">2015</text>
<text x="902" y="267.6" textLength="40.6">2020</text>
</g>
<!-- y labels -->
<g font-size="16">
<text x="948.6" y="75" fill="#404040">6<tspan font-size="16" dx="5" textLength="12" lengthAdjust="spacingAndGlyphs">%</tspan></text>
<text x="948.6" y="132.8" fill="#404040">4<tspan font-size="16" dx="5" textLength="12" lengthAdjust="spacingAndGlyphs">%</tspan></text>
<text x="948.6" y="190.2" fill="#404040">2<tspan font-size="16" dx="5" textLength="12" lengthAdjust="spacingAndGlyphs">%</tspan></text>
<text x="948.6" y="247.1" fill="#404040">0</text>
<text x="948.3" y="305.1" fill="#c43140">-2<tspan font-size="16" dx="5" textLength="12" lengthAdjust="spacingAndGlyphs">%</tspan></text>
<text x="948.3" y="363" fill="#c43140">-4<tspan font-size="16" dx="5" textLength="12" lengthAdjust="spacingAndGlyphs">%</tspan></text>
<text x="948.3" y="421.1" fill="#c43140">-6<tspan font-size="16" dx="5" textLength="12" lengthAdjust="spacingAndGlyphs">%</tspan></text>
<text x="948.3" y="478.2" fill="#c43140">-8<tspan font-size="16" dx="5" textLength="12" lengthAdjust="spacingAndGlyphs">%</tspan></text>
<text x="947.8" y="536.3" fill="#c43140">-10<tspan font-size="16" dx="4.6" textLength="12" lengthAdjust="spacingAndGlyphs">%</tspan></text>
</g>
<rect x="752" y="431" width="142" height="33" fill="#ffffff" fill-opacity="0.25"/>
<!-- series labels -->
<g font-size="19.6" text-anchor="end" stroke-width="0.55" lengthAdjust="spacingAndGlyphs">
<text x="874" y="98.3" fill="#3fa563" stroke="#3fa563" textLength="186.5">Hors subventions et</text>
<text x="874" y="120.4" fill="#3fa563" stroke="#3fa563" textLength="176">intérêts de la dette</text>
<text x="883.6" y="452.8" fill="#3b7bc0" stroke="#3b7bc0" textLength="121.3">Déficit public</text>
</g>
<!-- footer -->
<text x="865.7" y="554.2" font-size="11" font-weight="bold" fill="#ffffff" textLength="89" lengthAdjust="spacingAndGlyphs">www.elucid.media</text>
<polygon points="959.5,546.3 976,538.7 976,546.3" fill="#3e5bc6"/>
<polygon points="958.7,547 975.2,547 958.7,554.2" fill="#ffffff"/>
</svg>
</body></html>
